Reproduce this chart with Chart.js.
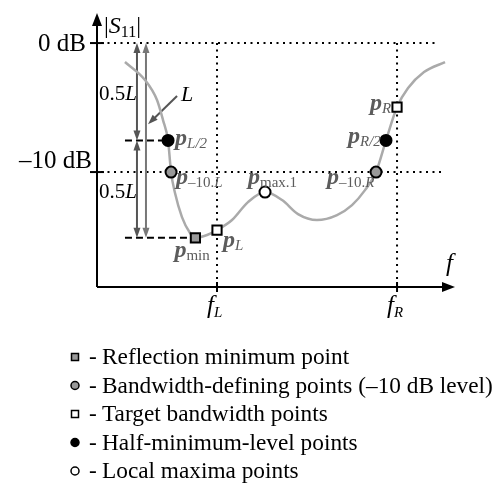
<!DOCTYPE html>
<html>
<head>
<meta charset="utf-8">
<script src="https://cdn.jsdelivr.net/npm/chart.js@4.4.0/dist/chart.umd.min.js"></script>
<style>
  body { margin: 0; background: #fff; }
  #wrap { width: 497px; height: 483px; }
</style>
</head>
<body>
<div id="wrap"><canvas id="canvas" width="497" height="483"></canvas></div>
<script>
// |S11| curve: frequency in units of f_L, level in dB
const curveF = [0.233, 0.4, 0.5, 0.55, 0.592, 0.617, 0.65, 0.708, 0.775, 0.82, 0.917, 1.0, 1.125, 1.258, 1.4, 1.542, 1.675, 1.833, 2.0, 2.125, 2.233, 2.325, 2.408, 2.5, 2.592, 2.725, 2.9];
const curveS = [-1.47, -2.87, -4.42, -5.97, -7.55, -10, -11.63, -13.49, -14.73, -15.1, -14.88, -14.5, -13.72, -12.33, -11.55, -12.17, -13.26, -13.72, -13.33, -12.56, -11.4, -10, -7.55, -4.96, -3.49, -2.25, -1.47];

const fL = 1.0;
const fR = 2.5;
const levelTicks = [0, -10];
const levelTickLabels = ['0 dB', '\u201310 dB'];
const minLevel = -15.1;
const halfLevel = minLevel / 2;

const pMin = [{ x: 0.82, y: minLevel }];
const pBandwidth = [{ x: 0.617, y: -10 }, { x: 2.325, y: -10 }];
const pTarget = [{ x: fL, y: -14.5 }, { x: fR, y: -4.96 }];
const pHalf = [{ x: 0.592, y: halfLevel }, { x: 2.408, y: halfLevel }];
const pMax = [{ x: 1.4, y: -11.55 }];

const legendTexts = [
    'Reflection minimum point',
    'Bandwidth-defining points (\u201310 dB level)',
    'Target bandwidth points',
    'Half-minimum-level points',
    'Local maxima points'
];

const serif = '"Liberation Serif", "Times New Roman", serif';
const labelGray = '#5c5c5c';
const pFont = 'bold italic 24px ' + serif;
const subFont = '15px ' + serif;
const subItalic = 'italic 15px ' + serif;

// point labels: p + subscript, offsets in px from the marker
const pointLabels = [
    { at: pHalf[0], dx: 7, dy: 5, sub: [['L/2', subItalic]] },
    { at: pBandwidth[0], dx: 5, dy: 12, sub: [['\u201310.', subFont], ['L', subItalic]] },
    { at: pMin[0], dx: -21, dy: 19, sub: [['min', subFont]] },
    { at: pTarget[0], dx: 6, dy: 17, sub: [['L', subItalic]] },
    { at: pMax[0], dx: -17, dy: -8, sub: [['max.1', subFont]] },
    { at: pBandwidth[1], dx: -49, dy: 12, sub: [['\u201310.', subFont], ['R', subItalic]] },
    { at: pHalf[1], dx: -38, dy: 3, sub: [['R/2', subItalic]] },
    { at: pTarget[1], dx: -27, dy: 3, sub: [['R', subItalic]] }
];

const curveData = curveF.map((f, i) => ({ x: f, y: curveS[i] }));

function arrowHead(ctx, x, y, angle, len, wid, color) {
    ctx.save();
    ctx.translate(x, y);
    ctx.rotate(angle);
    ctx.beginPath();
    ctx.moveTo(0, 0);
    ctx.lineTo(-len, -wid / 2);
    ctx.lineTo(-len, wid / 2);
    ctx.closePath();
    ctx.fillStyle = color;
    ctx.fill();
    ctx.restore();
}

function vArrow(ctx, x, y1, y2, color) {
    ctx.strokeStyle = color;
    ctx.lineWidth = 2;
    ctx.setLineDash([]);
    ctx.beginPath();
    ctx.moveTo(x, y1 + 8);
    ctx.lineTo(x, y2 - 8);
    ctx.stroke();
    arrowHead(ctx, x, y1, -Math.PI / 2, 10, 7, color);
    arrowHead(ctx, x, y2, Math.PI / 2, 10, 7, color);
}

function drawRich(ctx, x, y, parts) {
    parts.forEach(p => {
        ctx.font = p[1];
        ctx.fillStyle = p[2] || ctx.fillStyle;
        ctx.fillText(p[0], x, y + (p[3] || 0));
        x += ctx.measureText(p[0]).width;
    });
}

function line(ctx, x1, y1, x2, y2) {
    ctx.beginPath();
    ctx.moveTo(x1, y1);
    ctx.lineTo(x2, y2);
    ctx.stroke();
}

const backdrop = {
    id: 'backdrop',
    beforeDatasetsDraw(chart) {
        const ctx = chart.ctx;
        const xs = chart.scales.x, ys = chart.scales.y;
        const X = v => xs.getPixelForValue(v);
        const Y = v => ys.getPixelForValue(v);
        ctx.save();

        // dotted reference lines
        ctx.strokeStyle = '#000';
        ctx.lineWidth = 2;
        ctx.setLineDash([2, 4.5]);
        line(ctx, X(0) + 4, Y(0), X(2.833), Y(0));
        line(ctx, X(0) + 4, Y(-10), X(2.875), Y(-10));
        line(ctx, X(fL), Y(0), X(fL), ys.bottom);
        line(ctx, X(fR), Y(0), X(fR), ys.bottom);

        // dashed level lines
        ctx.setLineDash([7, 4]);
        line(ctx, X(0.233), Y(halfLevel), X(pHalf[0].x), Y(halfLevel));
        line(ctx, X(0.233), Y(minLevel), X(pMin[0].x), Y(minLevel));
        ctx.setLineDash([]);

        // L and 0.5L arrows
        vArrow(ctx, X(0.333), Y(0), Y(halfLevel), '#555');
        vArrow(ctx, X(0.333), Y(halfLevel), Y(minLevel), '#555');
        vArrow(ctx, X(0.408), Y(0), Y(minLevel), '#777');

        // leader for L
        ctx.strokeStyle = '#555';
        ctx.lineWidth = 2;
        const lx1 = X(0.667), ly1 = Y(-4.1), lx2 = X(0.425), ly2 = Y(-6.3);
        const ang = Math.atan2(ly2 - ly1, lx2 - lx1);
        line(ctx, lx1, ly1, lx2 - 8 * Math.cos(ang), ly2 - 8 * Math.sin(ang));
        arrowHead(ctx, lx2, ly2, ang, 10, 7, '#555');

        ctx.fillStyle = '#000';
        drawRich(ctx, X(0) + 2, (Y(0) + Y(halfLevel)) / 2 + 8, [['0.5', '21px ' + serif], ['L', 'italic 21px ' + serif]]);
        drawRich(ctx, X(0) + 2, (Y(halfLevel) + Y(minLevel)) / 2 + 9, [['0.5', '21px ' + serif], ['L', 'italic 21px ' + serif]]);
        drawRich(ctx, lx1 + 4, ly1 + 5, [['L', 'italic 22px ' + serif]]);

        // axes
        ctx.strokeStyle = '#000';
        ctx.lineWidth = 2;
        line(ctx, xs.left, ys.bottom, xs.right - 10, ys.bottom);
        line(ctx, xs.left, ys.bottom, xs.left, ys.top + 10);
        arrowHead(ctx, xs.right, ys.bottom, 0, 13, 10, '#000');
        arrowHead(ctx, xs.left, ys.top, -Math.PI / 2, 13, 10, '#000');

        levelTicks.forEach((v, i) => {
            line(ctx, xs.left - 7, Y(v), xs.left + 7, Y(v));
            ctx.font = '25px ' + serif;
            ctx.textAlign = 'right';
            ctx.fillStyle = '#000';
            ctx.fillText(levelTickLabels[i], xs.left - (i === 0 ? 11 : 5), Y(v) + (i === 0 ? 8 : -4));
        });
        ctx.textAlign = 'left';
        [fL, fR].forEach(v => line(ctx, X(v), ys.bottom - 5, X(v), ys.bottom + 5));

        ctx.fillStyle = '#000';
        drawRich(ctx, X(fL) - 10, ys.bottom + 26, [['f', 'italic 25px ' + serif], ['L', 'italic 15px ' + serif, null, 4]]);
        drawRich(ctx, X(fR) - 10, ys.bottom + 26, [['f', 'italic 25px ' + serif], ['R', 'italic 15px ' + serif, null, 4]]);
        drawRich(ctx, xs.right - 9, ys.bottom - 16, [['f', 'italic 25px ' + serif]]);
        drawRich(ctx, xs.left + 7, ys.top + 20, [['|', '24px ' + serif], ['S', 'italic 24px ' + serif], ['11', '16px ' + serif, null, 4], ['|', '24px ' + serif]]);
        ctx.restore();
    },
    afterDatasetsDraw(chart) {
        const ctx = chart.ctx;
        const xs = chart.scales.x, ys = chart.scales.y;
        ctx.save();
        ctx.textAlign = 'left';
        pointLabels.forEach(l => {
            const x = xs.getPixelForValue(l.at.x) + l.dx;
            const y = ys.getPixelForValue(l.at.y) + l.dy;
            const parts = [['p', pFont, labelGray]].concat(l.sub.map(s => [s[0], s[1], labelGray, 3]));
            drawRich(ctx, x, y, parts);
        });

        // legend
        const styles = [['rect', '#999'], ['circle', '#999'], ['rect', '#fff'], ['circle', '#000'], ['circle', '#fff']];
        legendTexts.forEach((t, i) => {
            const base = 364 + i * 28.5;
            const cx = 75, cy = base - 7;
            ctx.lineWidth = 1.5;
            ctx.strokeStyle = '#000';
            ctx.fillStyle = styles[i][1];
            ctx.beginPath();
            if (styles[i][0] === 'rect') ctx.rect(cx - 3.5, cy - 3.5, 7, 7);
            else ctx.arc(cx, cy, 4, 0, Math.PI * 2);
            ctx.fill();
            ctx.stroke();
            ctx.fillStyle = '#000';
            ctx.font = '23.3px ' + serif;
            ctx.fillText('-', 89, base);
            ctx.fillText(t, 102, base);
        });
        ctx.restore();
    }
};

const markerBase = { showLine: false, borderColor: '#000', pointBorderWidth: 2 };

new Chart(document.getElementById('canvas').getContext('2d'), {
    type: 'scatter',
    data: {
        datasets: [
            { ...markerBase, label: 'Reflection minimum point', data: pMin, pointStyle: 'rect', pointRadius: 6.5, backgroundColor: '#999' },
            { ...markerBase, label: 'Bandwidth-defining points', data: pBandwidth, pointStyle: 'circle', pointRadius: 5.5, backgroundColor: '#999' },
            { ...markerBase, label: 'Target bandwidth points', data: pTarget, pointStyle: 'rect', pointRadius: 6.5, backgroundColor: '#fff' },
            { ...markerBase, label: 'Half-minimum-level points', data: pHalf, pointStyle: 'circle', pointRadius: 5.5, backgroundColor: '#000' },
            { ...markerBase, label: 'Local maxima points', data: pMax, pointStyle: 'circle', pointRadius: 5.5, backgroundColor: '#fff' },
            {
                label: '|S11|',
                data: curveData,
                showLine: true,
                pointRadius: 0,
                borderColor: '#aaa',
                borderWidth: 2.5,
                cubicInterpolationMode: 'monotone'
            }
        ]
    },
    options: {
        responsive: false,
        animation: false,
        layout: { padding: { left: 97, right: 42, top: 13, bottom: 196 } },
        scales: {
            x: { type: 'linear', min: 0, max: 2.983, display: false },
            y: { type: 'linear', min: -18.91, max: 2.33, display: false }
        },
        plugins: {
            legend: { display: false },
            tooltip: { enabled: false }
        }
    },
    plugins: [backdrop]
});
</script>
</body>
</html>
